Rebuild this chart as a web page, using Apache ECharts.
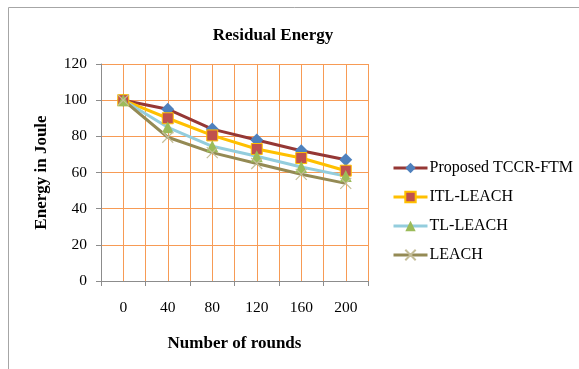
<!DOCTYPE html>
<html lang="en">
<head>
    <meta charset="UTF-8">
    <title>Residual Energy</title>
    <script src="https://cdn.jsdelivr.net/npm/echarts@6/dist/echarts.min.js"></script>
    <style>
        html, body { margin: 0; padding: 0; background: #fff; }
        #chart { width: 579px; height: 369px; }
    </style>
</head>
<body>
<div id="chart"></div>
<script>
    // rounds on the x axis
    const rounds = ['0', '40', '80', '120', '160', '200'];
    const seriesNames = ['Proposed TCCR-FTM', 'ITL-LEACH', 'TL-LEACH', 'LEACH'];
    // residual energy (Joule)
    const proposed = [100, 95, 84, 78, 72, 67];
    const itlLeach = [100, 90, 80.5, 73, 68, 61];
    const tlLeach = [100, 85, 74.5, 69, 63, 58];
    const leach = [100, 79.5, 71, 65, 59, 54];
    const yTicks = [0, 20, 40, 60, 80, 100, 120];

    const serif = 'Liberation Serif';
    const gridOrange = '#F79B55';

    const chart = echarts.init(document.getElementById('chart'));

    function lineSeries(name, data, lineColor, symbol, symbolSize, itemStyle) {
        return {
            name: name,
            type: 'line',
            data: data,
            xAxisIndex: 0,
            symbol: symbol,
            symbolSize: symbolSize,
            showSymbol: true,
            lineStyle: { color: lineColor, width: 3 },
            itemStyle: itemStyle,
            emphasis: { disabled: true },
            animation: false
        };
    }

    const option = {
        animation: false,
        title: {
            text: 'Residual Energy',
            left: 268,
            textAlign: 'center',
            top: 22,
            textStyle: { fontFamily: serif, fontSize: 17, fontWeight: 'bold', color: '#000' }
        },
        graphic: [{
            type: 'rect',
            shape: { x: 8.5, y: 7.5, width: 640, height: 400 },
            style: { fill: 'none', stroke: '#A6A6A6', lineWidth: 1 },
            silent: true,
            z: -10
        }],
        legend: {
            orient: 'vertical',
            left: 387,
            top: 155,
            itemWidth: 34,
            itemHeight: 13,
            itemGap: 13,
            data: seriesNames,
            lineStyle: { width: 3 },
            textStyle: { fontFamily: serif, fontSize: 16, color: '#000', padding: [0, 0, 0, -3] }
        },
        grid: { left: 101, top: 64, width: 267, height: 217, containLabel: false },
        xAxis: [{
            type: 'category',
            data: rounds,
            boundaryGap: true,
            name: 'Number of rounds',
            nameLocation: 'middle',
            nameGap: 54,
            nameTextStyle: { fontFamily: serif, fontSize: 17, fontWeight: 'bold', color: '#000' },
            axisLine: { lineStyle: { color: '#8C8C8C', width: 1 } },
            axisTick: { show: true, length: 5, lineStyle: { color: '#8C8C8C' } },
            axisLabel: { fontFamily: serif, fontSize: 15.5, color: '#000', margin: 19 },
            splitLine: { show: false }
        }, {
            // grid lines every half category (boundaries and centres)
            type: 'value',
            min: 0,
            max: 12,
            interval: 1,
            position: 'bottom',
            axisLine: { show: false },
            axisTick: { show: false },
            axisLabel: { show: false },
            splitLine: { show: true, lineStyle: { color: gridOrange, width: 1 } }
        }],
        yAxis: {
            type: 'value',
            min: 0,
            max: 120,
            interval: 20,
            name: 'Energy in Joule',
            nameLocation: 'middle',
            nameRotate: 90,
            nameGap: 51,
            nameTextStyle: { fontFamily: serif, fontSize: 17, fontWeight: 'bold', color: '#000' },
            axisLine: { show: true, lineStyle: { color: '#8C8C8C', width: 1 } },
            axisTick: { show: true, length: 5, lineStyle: { color: '#8C8C8C' } },
            axisLabel: {
                fontFamily: serif, fontSize: 15.5, color: '#000', margin: 14,
                formatter: function (v) { return yTicks.indexOf(v) >= 0 ? String(v) : ''; }
            },
            splitLine: { show: true, lineStyle: { color: gridOrange, width: 1 } }
        },
        series: [
            lineSeries(seriesNames[0], proposed, '#953735', 'diamond', 13,
                { color: '#4F81BD', borderColor: '#4F81BD', borderWidth: 0 }),
            lineSeries(seriesNames[1], itlLeach, '#FFC000', 'rect', 11,
                { color: '#C0504D', borderColor: '#FFC000', borderWidth: 1 }),
            lineSeries(seriesNames[2], tlLeach, '#93CDDD', 'triangle', 12,
                { color: '#9BBB59', borderColor: '#9BBB59', borderWidth: 0 }),
            lineSeries(seriesNames[3], leach, '#948A54', 'path://M0,0L10,10M10,0L0,10', 11,
                { color: 'rgba(0,0,0,0)', borderColor: '#C4BD97', borderWidth: 1.2 })
        ]
    };
    chart.setOption(option);
</script>
</body>
</html>
